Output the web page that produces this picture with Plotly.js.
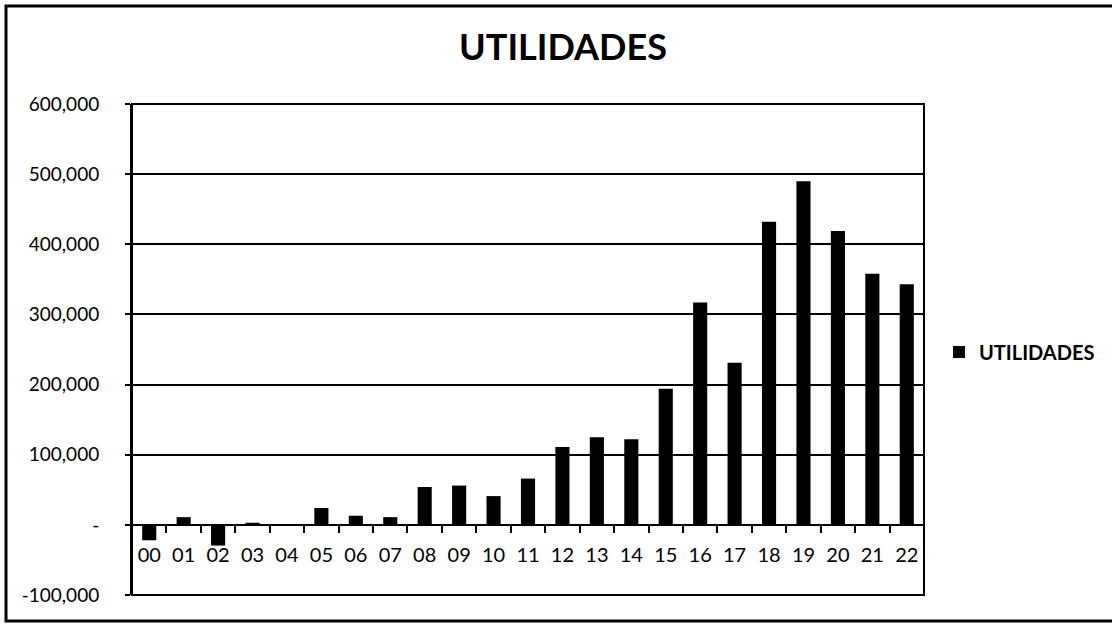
<!DOCTYPE html>
<html>
<head>
<meta charset="utf-8">
<script src="https://cdn.plot.ly/plotly-3.0.1.min.js"></script>
<style>
  html, body { margin: 0; padding: 0; background: #ffffff; }
  #chart { width: 1112px; height: 624px; }
</style>
</head>
<body>
<div id="chart"></div>
<script>
// ---- Data ----
const categories = ['00','01','02','03','04','05','06','07','08','09','10','11',
                    '12','13','14','15','16','17','18','19','20','21','22'];
const utilidades = [-22000, 11000, -29500, 3000, 0, 24000, 13000, 11000, 54000, 56000,
                    41000, 66000, 111000, 125000, 122000, 194000, 317000, 231000,
                    432000, 490000, 419000, 358000, 343000];
const seriesName = 'UTILIDADES';
const chartTitle = 'UTILIDADES';
const yTickVals = [-100000, 0, 100000, 200000, 300000, 400000, 500000, 600000];
const yTickText = ['-100,000', '-', '100,000', '200,000', '300,000', '400,000', '500,000', '600,000'];

// ---- Layout geometry (pixels) ----
const W = 1112, H = 624;
const mL = 132, mR = 188, mT = 104, mB = 29;
const pw = W - mL - mR, ph = H - mT - mB;
const px2x = p => (p - mL) / pw;
const py2y = p => (H - mB - p) / ph;

const FONT = 'Lato, "Open Sans", sans-serif';
const yMin = yTickVals[0], yMax = yTickVals[yTickVals.length - 1];

const trace = {
  type: 'bar',
  name: seriesName,
  x: categories,
  y: utilidades,
  marker: { color: '#000000', line: { width: 0 } },
  showlegend: true,
  hoverinfo: 'x+y'
};

const layout = {
  width: W, height: H,
  margin: { l: mL, r: mR, t: mT, b: mB, pad: 0, autoexpand: false },
  paper_bgcolor: '#ffffff',
  plot_bgcolor: '#ffffff',
  font: { family: FONT, color: '#000000' },
  title: {
    text: chartTitle,
    font: { family: FONT, size: 36, weight: 'bold', color: '#000000' },
    x: 563 / W, xref: 'container', xanchor: 'center',
    y: 1 - 47 / H, yref: 'container', yanchor: 'middle'
  },
  bargap: 0.59,
  xaxis: {
    type: 'category',
    categoryorder: 'array',
    categoryarray: categories,
    anchor: 'free',
    position: (0 - yMin) / (yMax - yMin),
    showline: true, linecolor: '#000000', linewidth: 2,
    ticks: 'outside', tickson: 'boundaries', ticklen: 7, tickwidth: 2, tickcolor: '#000000',
    ticklabelstandoff: 12,
    tickfont: { family: FONT, size: 20, color: '#000000' },
    showgrid: false, zeroline: false,
    fixedrange: true
  },
  yaxis: {
    range: [yMin, yMax],
    tickvals: yTickVals,
    ticktext: yTickText,
    showline: true, linecolor: '#000000', linewidth: 2,
    ticks: 'outside', ticklen: 5, tickwidth: 2, tickcolor: '#000000',
    ticklabelstandoff: 22,
    tickfont: { family: FONT, size: 19, color: '#000000' },
    showgrid: true, gridcolor: '#000000', gridwidth: 2,
    zeroline: false,
    fixedrange: true
  },
  legend: {
    x: px2x(939), xanchor: 'left',
    y: py2y(352), yanchor: 'middle',
    font: { family: FONT, size: 20, weight: 'bold', color: '#000000' },
    bgcolor: 'rgba(0,0,0,0)'
  },
  shapes: [
    { type: 'rect', xref: 'paper', yref: 'paper', x0: 0, x1: 1, y0: 0, y1: 1,
      line: { color: '#000000', width: 2 }, fillcolor: 'rgba(0,0,0,0)', layer: 'above' },
    { type: 'rect', xref: 'paper', yref: 'paper',
      x0: px2x(6), x1: px2x(1125), y0: py2y(621), y1: py2y(6),
      line: { color: '#000000', width: 3 }, fillcolor: 'rgba(0,0,0,0)', layer: 'above' }
  ]
};

Plotly.newPlot('chart', [trace], layout, { displayModeBar: false, staticPlot: true });
</script>
</body>
</html>
